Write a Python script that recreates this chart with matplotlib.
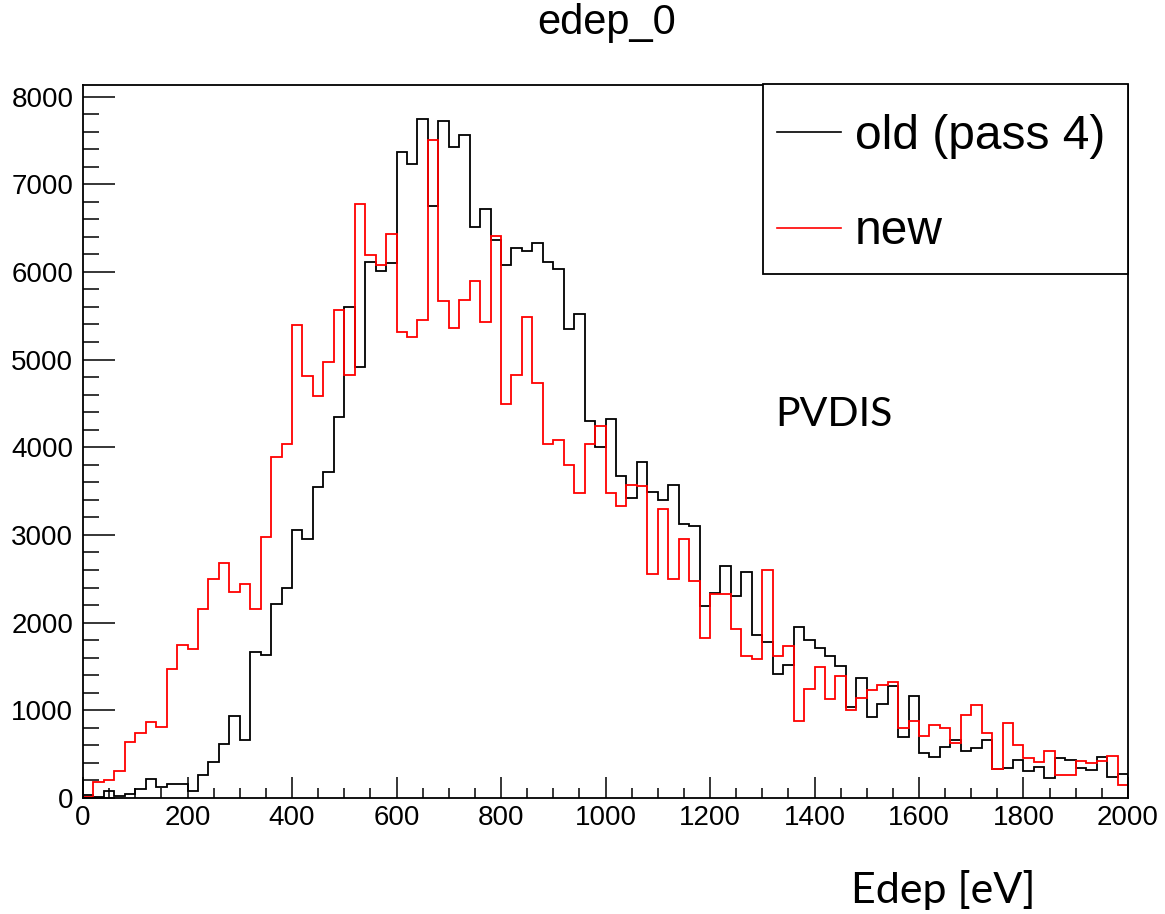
#!/usr/bin/env python3
"""Overlay of the edep_0 histogram: old (pass 4) vs new, PVDIS."""

from __future__ import annotations

import matplotlib
matplotlib.use("Agg")
import matplotlib.pyplot as plt
import numpy as np
from matplotlib.patches import Rectangle
from matplotlib.ticker import MultipleLocator

# ---- binning: 100 bins of 20 eV between 0 and 2000 eV ----
BIN_EDGES = np.arange(0, 2001, 20)

# ---- bin contents ----
OLD_PASS4 = [
    34, 8, 84, 23, 49, 99, 217, 129, 156, 160,
    84, 262, 407, 612, 939, 662, 1670, 1628, 2210, 2400,
    3058, 2955, 3545, 3723, 4340, 5597, 4920, 6116, 6005, 6097,
    7371, 7230, 7744, 6755, 7717, 7420, 7557, 6515, 6720, 6363,
    6074, 6276, 6233, 6333, 6116, 6036, 5348, 5522, 4296, 4003,
    4324, 3674, 3425, 3830, 3484, 3404, 3575, 3120, 3102, 2187,
    2343, 2647, 2308, 2582, 1864, 1784, 1415, 1514, 1955, 1799,
    1708, 1624, 1510, 1035, 1366, 921, 1069, 1278, 700, 1168,
    517, 464, 586, 662, 540, 567, 662, 327, 339, 437,
    304, 357, 228, 460, 434, 339, 323, 471, 236, 274,
]
NEW = [
    10, 186, 210, 310, 643, 738, 863, 806, 1468, 1745,
    1700, 2156, 2500, 2685, 2354, 2442, 2160, 2974, 3894, 4039,
    5397, 4807, 4590, 4969, 5560, 4826, 6770, 6188, 6082, 6432,
    5313, 5252, 5446, 7508, 5671, 5355, 5679, 5891, 5431, 6412,
    4492, 4819, 5488, 4735, 4041, 4081, 3800, 3474, 4041, 4248,
    3474, 3328, 3570, 3560, 2559, 3301, 2495, 2950, 2480, 1828,
    2324, 2324, 1928, 1620, 1590, 2598, 1617, 1734, 882, 1244,
    1495, 1126, 1392, 1000, 1145, 1232, 1289, 1326, 799, 882,
    707, 837, 802, 624, 951, 1061, 738, 331, 852, 601,
    460, 407, 540, 266, 266, 426, 403, 426, 479, 148,
]
SERIES_LABELS = ["old (pass 4)", "new"]
SERIES_COLORS = ["black", "#ff0000"]

W_PX, H_PX = 1165, 914
HELV = ["Liberation Sans", "DejaVu Sans"]
CALIBRI_LIKE = ["Lato", "DejaVu Sans"]


def main() -> None:
    fig = plt.figure(figsize=(W_PX / 100, H_PX / 100), dpi=100)
    ax = fig.add_axes([83 / W_PX, 1 - 798 / H_PX,
                       (1128 - 83) / W_PX, (798 - 85) / H_PX])

    for vals, lab, col in zip([OLD_PASS4, NEW], SERIES_LABELS, SERIES_COLORS):
        ax.stairs(vals, BIN_EDGES, color=col, linewidth=1.3, label=lab)

    ax.set_xlim(BIN_EDGES[0], BIN_EDGES[-1])
    ax.set_ylim(0, 1.05 * max(max(OLD_PASS4), max(NEW)))

    # ROOT-like ticks: inward, only on bottom and left
    ax.xaxis.set_major_locator(MultipleLocator(200))
    ax.xaxis.set_minor_locator(MultipleLocator(50))
    ax.yaxis.set_major_locator(MultipleLocator(1000))
    ax.yaxis.set_minor_locator(MultipleLocator(200))
    ax.tick_params(axis="x", which="major", direction="in", length=15, width=1.1, pad=5)
    ax.tick_params(axis="x", which="minor", direction="in", length=7.5, width=1.1)
    ax.tick_params(axis="y", which="major", direction="in", length=23, width=1.1, pad=7)
    ax.tick_params(axis="y", which="minor", direction="in", length=11.5, width=1.1)
    for lbl in ax.get_xticklabels() + ax.get_yticklabels():
        lbl.set_family(HELV)
        lbl.set_fontsize(20)
    for sp in ax.spines.values():
        sp.set_linewidth(1.3)

    # legend box (opaque, like a TLegend) drawn separately for exact size
    box = Rectangle((763 / W_PX, 1 - 274 / H_PX), (1128 - 763) / W_PX, (274 - 84) / H_PX,
                    transform=fig.transFigure, facecolor="white", edgecolor="black",
                    linewidth=1.3, zorder=4.5, clip_on=False)
    ax.add_patch(box)
    leg = ax.legend(loc="upper left",
                    bbox_to_anchor=(777 / W_PX, 1 - 114 / H_PX),
                    bbox_transform=fig.transFigure,
                    prop={"family": HELV, "size": 34.5},
                    handlelength=1.34, handletextpad=0.28, borderpad=0,
                    labelspacing=1.05, borderaxespad=0, frameon=False)
    leg.set_zorder(5)
    for h in leg.get_lines():
        h.set_linewidth(1.2)

    ax.text((775 - 83) / 1045, (798 - 414) / 713, "PVDIS", transform=ax.transAxes,
            ha="left", va="center", fontsize=29.5, family=CALIBRI_LIKE)

    fig.text(607 / W_PX, 1 - 23 / H_PX, "edep_0", ha="center", va="center",
             fontsize=30, family=HELV)
    fig.text(943 / W_PX, 1 - 890 / H_PX, "Edep [eV]", ha="center", va="center",
             fontsize=31, family=CALIBRI_LIKE)

    fig.savefig("out.png", dpi=100)
    plt.close(fig)


if __name__ == "__main__":
    main()
